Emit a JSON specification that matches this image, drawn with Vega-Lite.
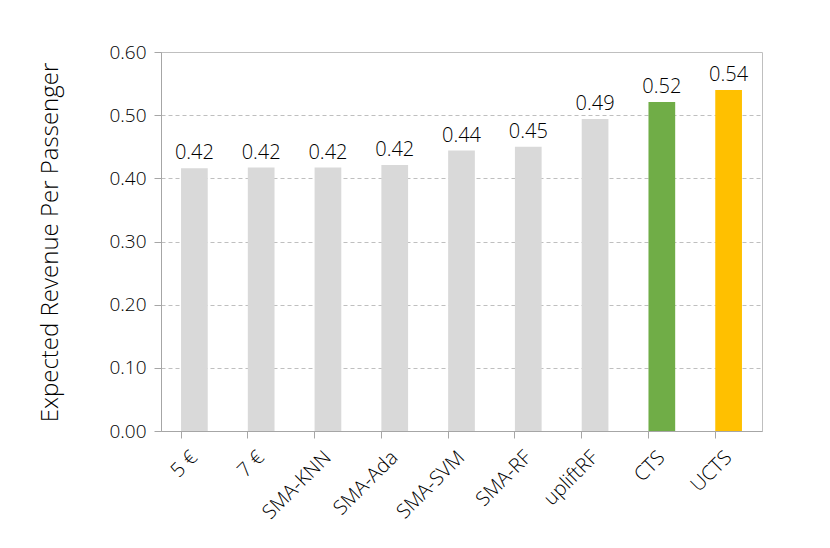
{
  "$schema": "https://vega.github.io/schema/vega-lite/v6.json",
  "width": 601,
  "height": 379,
  "autosize": "none",
  "padding": {"left": 161, "top": 52, "right": 68, "bottom": 117},
  "background": "white",
  "config": {
    "font": "Open Sans",
    "view": {"stroke": "#BFBFBF", "strokeWidth": 1}
  },
  "data": {
    "values": [
      {"method": "5 €", "revenue": 0.416, "label": "0.42"},
      {"method": "7 €", "revenue": 0.417, "label": "0.42"},
      {"method": "SMA-KNN", "revenue": 0.417, "label": "0.42"},
      {"method": "SMA-Ada", "revenue": 0.421, "label": "0.42"},
      {"method": "SMA-SVM", "revenue": 0.444, "label": "0.44"},
      {"method": "SMA-RF", "revenue": 0.450, "label": "0.45"},
      {"method": "upliftRF", "revenue": 0.494, "label": "0.49"},
      {"method": "CTS", "revenue": 0.521, "label": "0.52"},
      {"method": "UCTS", "revenue": 0.540, "label": "0.54"}
    ]
  },
  "encoding": {
    "x": {
      "field": "method",
      "type": "nominal",
      "sort": null,
      "scale": {"paddingInner": 0.6, "paddingOuter": 0.3},
      "axis": {
        "title": null,
        "labelAngle": -45,
        "labelFontSize": 20,
        "labelFontWeight": 300,
        "labelColor": "#000000",
        "labelAlign": "right",
        "labelBaseline": "middle",
        "labelPadding": 16,
        "bandPosition": 0,
        "tickColor": "#A6A6A6",
        "tickSize": 7,
        "domainColor": "#A6A6A6",
        "grid": false
      }
    },
    "y": {
      "field": "revenue",
      "type": "quantitative",
      "scale": {"domain": [0, 0.6], "nice": false},
      "axis": {
        "title": "Expected Revenue Per Passenger",
        "titleFontSize": 24,
        "titleFontWeight": 300,
        "titleColor": "#000000",
        "titleX": -111,
        "titleY": 190,
        "titleAngle": -90,
        "titleAlign": "center",
        "titleBaseline": "middle",
        "values": [0, 0.1, 0.2, 0.3, 0.4, 0.5, 0.6],
        "format": ".2f",
        "labelFontSize": 19,
        "labelFontWeight": 300,
        "labelColor": "#000000",
        "labelPadding": 8,
        "tickColor": "#A6A6A6",
        "tickSize": 7,
        "domainColor": "#A6A6A6",
        "gridColor": "#BFBFBF",
        "gridDash": [4, 3],
        "gridWidth": 1
      }
    }
  },
  "layer": [
    {
      "mark": {"type": "bar"},
      "encoding": {
        "color": {
          "field": "method",
          "type": "nominal",
          "scale": {
            "domain": ["5 €", "7 €", "SMA-KNN", "SMA-Ada", "SMA-SVM", "SMA-RF", "upliftRF", "CTS", "UCTS"],
            "range": ["#D9D9D9", "#D9D9D9", "#D9D9D9", "#D9D9D9", "#D9D9D9", "#D9D9D9", "#D9D9D9", "#70AD47", "#FFC000"]
          },
          "legend": null
        }
      }
    },
    {
      "mark": {"type": "text", "baseline": "bottom", "dy": -5, "fontSize": 20, "fontWeight": 300, "color": "#000000"},
      "encoding": {"text": {"field": "label"}}
    }
  ]
}
